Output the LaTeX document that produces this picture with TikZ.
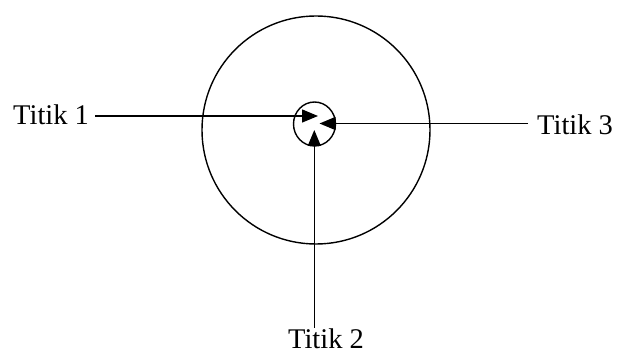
\documentclass[tikz,border=0pt]{standalone}
\usepackage{fontspec}
\setmainfont{Liberation Serif}
\usetikzlibrary{arrows.meta,shapes.geometric}
\begin{document}
\begin{tikzpicture}[x=1pt,y=-1pt,
  lbl/.style={inner sep=0pt,font=\fontsize{28.5}{30}\selectfont},
  conn/.style={line width=1.4pt,-{Triangle[length=16pt,width=13pt]}},
  shp/.style={draw,line width=1.4pt}]
\useasboundingbox (0,0) rectangle (619,355);
\node[shp,circle,minimum size=228pt,inner sep=0pt] (big) at (316,130) {};
\node[shp,ellipse,minimum width=42pt,minimum height=44pt,inner sep=0pt] (small) at (314.5,124) {};
\node[lbl,anchor=base west] (t1) at (13,125) {Titik 1};
\node[lbl,anchor=base west] (t3) at (537,135) {Titik 3};
\node[lbl,anchor=base] (t2) at (326,349) {Titik 2};
\coordinate (p1) at (318,116);
\coordinate (p3) at (319.5,123.5);
\coordinate (p2) at (314.3,130);
\coordinate (s1) at (95,116);
\coordinate (s3) at (528,123.5);
\coordinate (s2) at (314.3,328);
\draw[conn] (s1) -- (p1);
\draw[conn] (s3) -- (p3);
\draw[conn] (s2) -- (p2);
\end{tikzpicture}
\end{document}
